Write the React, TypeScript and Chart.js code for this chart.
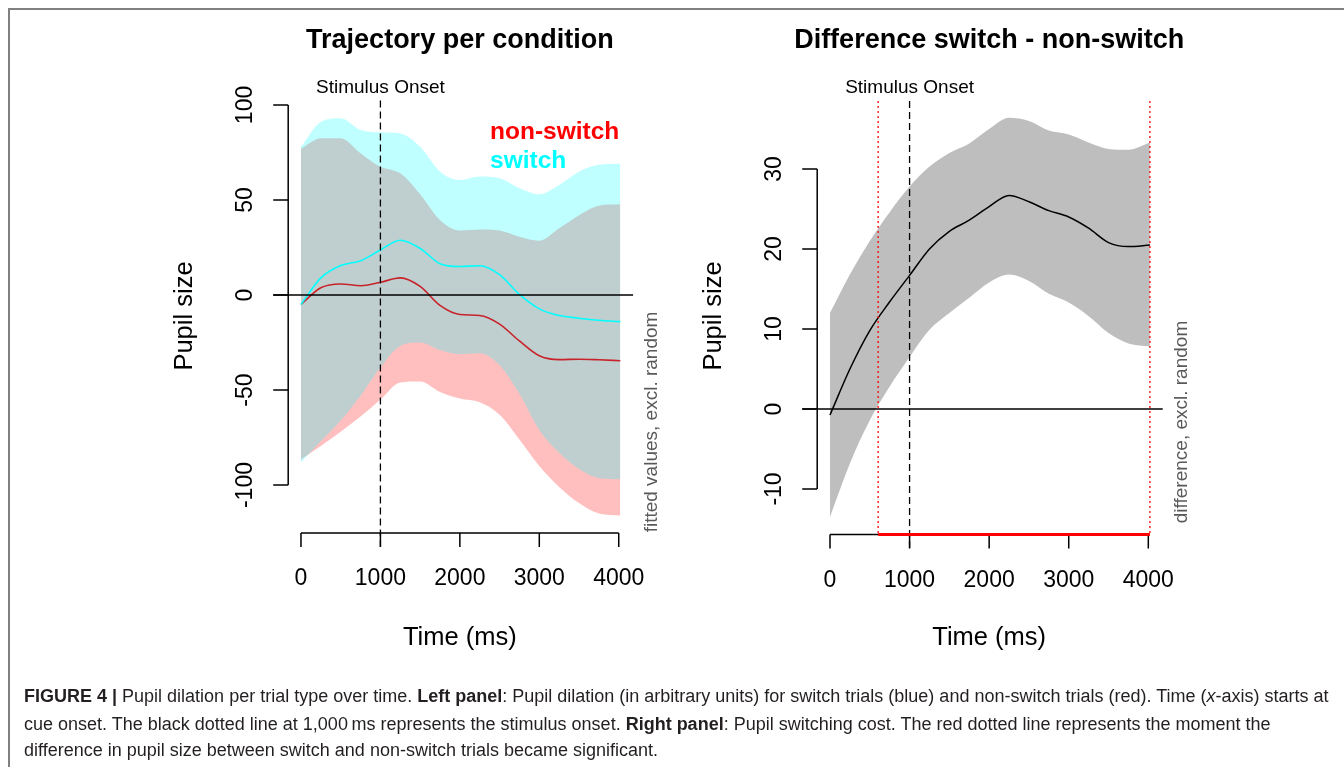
import React, { useEffect, useRef } from "react";
import { Chart, registerables } from "chart.js";

Chart.register(...registerables);

// ---- data ----
const TIMES = [0, 250, 500, 750, 1000, 1250, 1500, 1750, 2000, 2250, 2500, 2750, 3000, 3250, 3500, 3750, 4020];

const SWITCH_UPPER = [78, 91, 93, 86.8, 85.6, 85, 78, 65, 60.5, 62.3, 61.4, 56.2, 53, 57.9, 64.9, 68.5, 69];
const SWITCH_LOWER = [-88, -77, -66, -53, -38, -26.8, -25, -29, -31.2, -30.7, -37, -52, -71, -83, -91.5, -96.3, -97];
const NS_UPPER = [77, 82.5, 82.5, 74.6, 67.5, 64, 53, 39.5, 34, 34.5, 34, 30.7, 28.6, 35.1, 42, 47, 47.7];
const NS_LOWER = [-86.5, -79.5, -72, -64, -55, -46, -45.5, -51, -54.5, -56.5, -63, -76, -90, -101, -109.5, -115, -116];
const SWITCH_MEAN = [-5, 9, 15.5, 18, 23.7, 28.8, 24.5, 16.5, 15, 15.4, 10.7, 0.3, -7.3, -10.8, -12.2, -13.3, -14];
const NS_MEAN = [-5, 3.8, 5.8, 4.9, 6.7, 9, 4.5, -5.5, -10.3, -10.8, -15.3, -24.2, -32, -34, -33.8, -34.1, -34.6];

const DIFF_MEAN = [-0.75, 5, 9.8, 13.4, 16.7, 20, 22.2, 23.6, 25.3, 26.7, 25.9, 24.8, 24, 22.6, 20.8, 20.3, 20.5];
const DIFF_UPPER = [12, 16.8, 21, 24.6, 27.8, 30.3, 32, 33.2, 35, 36.4, 36, 34.8, 34.3, 33.3, 32.5, 32.4, 33.3];
const DIFF_LOWER = [-13.5, -6.8, -1.4, 2.8, 6.5, 9.9, 12, 13.9, 15.8, 16.8, 16, 14.4, 13.3, 11.6, 9.5, 8.2, 7.8];

const X_TICKS = [0, 1000, 2000, 3000, 4000];
const LEFT_Y_TICKS = [-100, -50, 0, 50, 100];
const RIGHT_Y_TICKS = [-10, 0, 10, 20, 30];

const STIM_ONSET = 1000;
const SIG_START = 605;
const SIG_END = 4020;

const FONT = '"Liberation Sans", Arial, Helvetica, sans-serif';
const W = 1344;
const H = 767;

const pts = (ys: number[]) => TIMES.map((t, i) => ({ x: t, y: ys[i] }));

type PanelCfg = {
  title: string;
  yTicks: number[];
  sideLabel: string;
  sideX: number;
  significance: boolean;
  legend: boolean;
};

function makePanelPlugin(cfg: PanelCfg) {
  return {
    id: "rstyle",
    afterDraw(chart: any) {
      const ctx = chart.ctx as CanvasRenderingContext2D;
      const a = chart.chartArea;
      const xs = chart.scales.x;
      const ys = chart.scales.y;
      ctx.save();

      // zero line
      ctx.strokeStyle = "#000";
      ctx.lineWidth = 1.3;
      ctx.setLineDash([]);
      const y0 = ys.getPixelForValue(0);
      ctx.beginPath();
      ctx.moveTo(a.left - 15, y0);
      ctx.lineTo(a.right, y0);
      ctx.stroke();

      // significance lines
      if (cfg.significance) {
        ctx.strokeStyle = "#FF0000";
        ctx.lineWidth = 1.3;
        ctx.setLineDash([2, 3]);
        for (const t of [SIG_START, SIG_END]) {
          const px = xs.getPixelForValue(t);
          ctx.beginPath();
          ctx.moveTo(px, a.top);
          ctx.lineTo(px, a.bottom);
          ctx.stroke();
        }
        ctx.setLineDash([]);
      }

      // stimulus onset dashed line
      const xOn = xs.getPixelForValue(STIM_ONSET);
      ctx.strokeStyle = "#000";
      ctx.lineWidth = 1.3;
      ctx.setLineDash([7, 4]);
      ctx.beginPath();
      ctx.moveTo(xOn, a.top);
      ctx.lineTo(xOn, a.bottom + 15);
      ctx.stroke();
      ctx.setLineDash([]);

      // axes
      ctx.strokeStyle = "#000";
      ctx.lineWidth = 1.5;
      const yT = cfg.yTicks;
      ctx.beginPath();
      ctx.moveTo(a.left, ys.getPixelForValue(yT[0]));
      ctx.lineTo(a.left, ys.getPixelForValue(yT[yT.length - 1]));
      for (const v of yT) {
        const p = ys.getPixelForValue(v);
        ctx.moveTo(a.left - 15, p);
        ctx.lineTo(a.left, p);
      }
      const xb = a.bottom + 1.5;
      ctx.moveTo(xs.getPixelForValue(X_TICKS[0]), xb);
      ctx.lineTo(xs.getPixelForValue(X_TICKS[X_TICKS.length - 1]), xb);
      for (const v of X_TICKS) {
        const p = xs.getPixelForValue(v);
        ctx.moveTo(p, xb);
        ctx.lineTo(p, xb + 14);
      }
      ctx.stroke();

      if (cfg.significance) {
        ctx.strokeStyle = "#FF0000";
        ctx.lineWidth = 3;
        ctx.beginPath();
        ctx.moveTo(xs.getPixelForValue(SIG_START), xb);
        ctx.lineTo(xs.getPixelForValue(SIG_END), xb);
        ctx.stroke();
      }

      // tick labels
      ctx.fillStyle = "#000";
      ctx.textAlign = "center";
      ctx.textBaseline = "middle";
      ctx.font = `23px ${FONT}`;
      for (const v of X_TICKS) {
        ctx.fillText(String(v), xs.getPixelForValue(v), xb + 46);
      }
      for (const v of yT) {
        ctx.save();
        ctx.translate(a.left - 43, ys.getPixelForValue(v));
        ctx.rotate(-Math.PI / 2);
        ctx.fillText(String(v), 0, 0);
        ctx.restore();
      }

      const cx = (xs.getPixelForValue(X_TICKS[0]) + xs.getPixelForValue(X_TICKS[X_TICKS.length - 1])) / 2;

      // axis titles
      ctx.font = `25.5px ${FONT}`;
      ctx.fillText("Time (ms)", cx, 638);
      ctx.save();
      ctx.translate(a.left - 103, 316);
      ctx.rotate(-Math.PI / 2);
      ctx.fillText("Pupil size", 0, 0);
      ctx.restore();

      // title
      ctx.font = `bold 27px ${FONT}`;
      ctx.fillText(cfg.title, cx, 41);

      // stimulus onset label
      ctx.font = `19px ${FONT}`;
      ctx.fillText("Stimulus Onset", xOn, 88);

      // side label
      ctx.fillStyle = "#595959";
      ctx.font = `19px ${FONT}`;
      ctx.save();
      ctx.translate(cfg.sideX, 422);
      ctx.rotate(-Math.PI / 2);
      ctx.fillText(cfg.sideLabel, 0, 0);
      ctx.restore();

      if (cfg.legend) {
        ctx.textAlign = "left";
        ctx.font = `bold 24.5px ${FONT}`;
        ctx.fillStyle = "#FF0000";
        ctx.fillText("non-switch", 490, 132);
        ctx.fillStyle = "#00FFFF";
        ctx.fillText("switch", 490, 161);
      }
      ctx.restore();
    },
  };
}

const baseOptions = (padding: any, ymin: number, ymax: number) => ({
  responsive: false,
  animation: false as const,
  events: [],
  layout: { padding },
  plugins: { legend: { display: false }, tooltip: { enabled: false }, title: { display: false } },
  elements: { point: { radius: 0 } },
  scales: {
    x: { type: "linear" as const, min: -160.8, max: 4180.8, display: false },
    y: { type: "linear" as const, min: ymin, max: ymax, display: false },
  },
});

function App() {
  const leftRef = useRef<HTMLCanvasElement>(null);
  const rightRef = useRef<HTMLCanvasElement>(null);

  useEffect(() => {
    const left = new Chart(leftRef.current!, {
      type: "line",
      data: {
        datasets: [
          { data: pts(SWITCH_UPPER), borderWidth: 0, fill: "+1", backgroundColor: "rgba(0,255,255,0.25)", order: 1, cubicInterpolationMode: "monotone" },
          { data: pts(SWITCH_LOWER), borderWidth: 0, fill: false, order: 1, cubicInterpolationMode: "monotone" },
          { data: pts(NS_UPPER), borderWidth: 0, fill: "+1", backgroundColor: "rgba(255,0,0,0.25)", order: 2, cubicInterpolationMode: "monotone" },
          { data: pts(NS_LOWER), borderWidth: 0, fill: false, order: 2, cubicInterpolationMode: "monotone" },
          { data: pts(SWITCH_MEAN), borderColor: "#00FFFF", borderWidth: 1.6, fill: false, order: 0, cubicInterpolationMode: "monotone" },
          { data: pts(NS_MEAN), borderColor: "#C8232A", borderWidth: 1.6, fill: false, order: 0, cubicInterpolationMode: "monotone" },
        ] as any,
      },
      options: baseOptions({ left: 288.2, right: W - 633.1, top: 100.4, bottom: H - 531.4 }, -124.4, 102.4) as any,
      plugins: [
        makePanelPlugin({
          title: "Trajectory per condition",
          yTicks: LEFT_Y_TICKS,
          sideLabel: "fitted values, excl. random",
          sideX: 652,
          significance: false,
          legend: true,
        }),
      ],
    });

    const right = new Chart(rightRef.current!, {
      type: "line",
      data: {
        datasets: [
          { data: pts(DIFF_UPPER), borderWidth: 0, fill: "+1", backgroundColor: "#BEBEBE", order: 1, cubicInterpolationMode: "monotone" },
          { data: pts(DIFF_LOWER), borderWidth: 0, fill: false, order: 1, cubicInterpolationMode: "monotone" },
          { data: pts(DIFF_MEAN), borderColor: "#000", borderWidth: 1.5, fill: false, order: 0, cubicInterpolationMode: "monotone" },
        ] as any,
      },
      options: baseOptions({ left: 817.2, right: W - 1162.7, top: 101, bottom: H - 533 }, -15.5, 38.5) as any,
      plugins: [
        makePanelPlugin({
          title: "Difference switch - non-switch",
          yTicks: RIGHT_Y_TICKS,
          sideLabel: "difference, excl. random",
          sideX: 1182,
          significance: true,
          legend: false,
        }),
      ],
    });

    return () => {
      left.destroy();
      right.destroy();
    };
  }, []);

  const canvasStyle: React.CSSProperties = { position: "absolute", left: 0, top: 0 };
  const lineStyle: React.CSSProperties = { position: "absolute", left: 24, whiteSpace: "nowrap", lineHeight: "22px" };

  return (
    <div style={{ position: "fixed", left: 0, top: 0, width: W, height: H, background: "#fff", overflow: "hidden", fontFamily: FONT }}>
      <div style={{ position: "absolute", left: 8, top: 8, width: W, height: H, borderTop: "2px solid #808080", borderLeft: "2px solid #808080" }} />
      <canvas ref={leftRef} width={W} height={H} style={canvasStyle} />
      <canvas ref={rightRef} width={W} height={H} style={canvasStyle} />
      <div style={{ position: "absolute", left: 0, top: 0, fontSize: 18, color: "#231F20" }}>
        <div style={{ ...lineStyle, top: 685 }}>
          <b>FIGURE 4 | </b>Pupil dilation per trial type over time. <b>Left panel</b>: Pupil dilation (in arbitrary units) for switch trials (blue) and non-switch trials (red). Time (<i>x</i>-axis) starts at
        </div>
        <div style={{ ...lineStyle, top: 713 }}>
          cue onset. The black dotted line at 1,000{"\u2009"}ms represents the stimulus onset. <b>Right panel</b>: Pupil switching cost. The red dotted line represents the moment the
        </div>
        <div style={{ ...lineStyle, top: 739 }}>
          difference in pupil size between switch and non-switch trials became significant.
        </div>
      </div>
    </div>
  );
}

export default App;
